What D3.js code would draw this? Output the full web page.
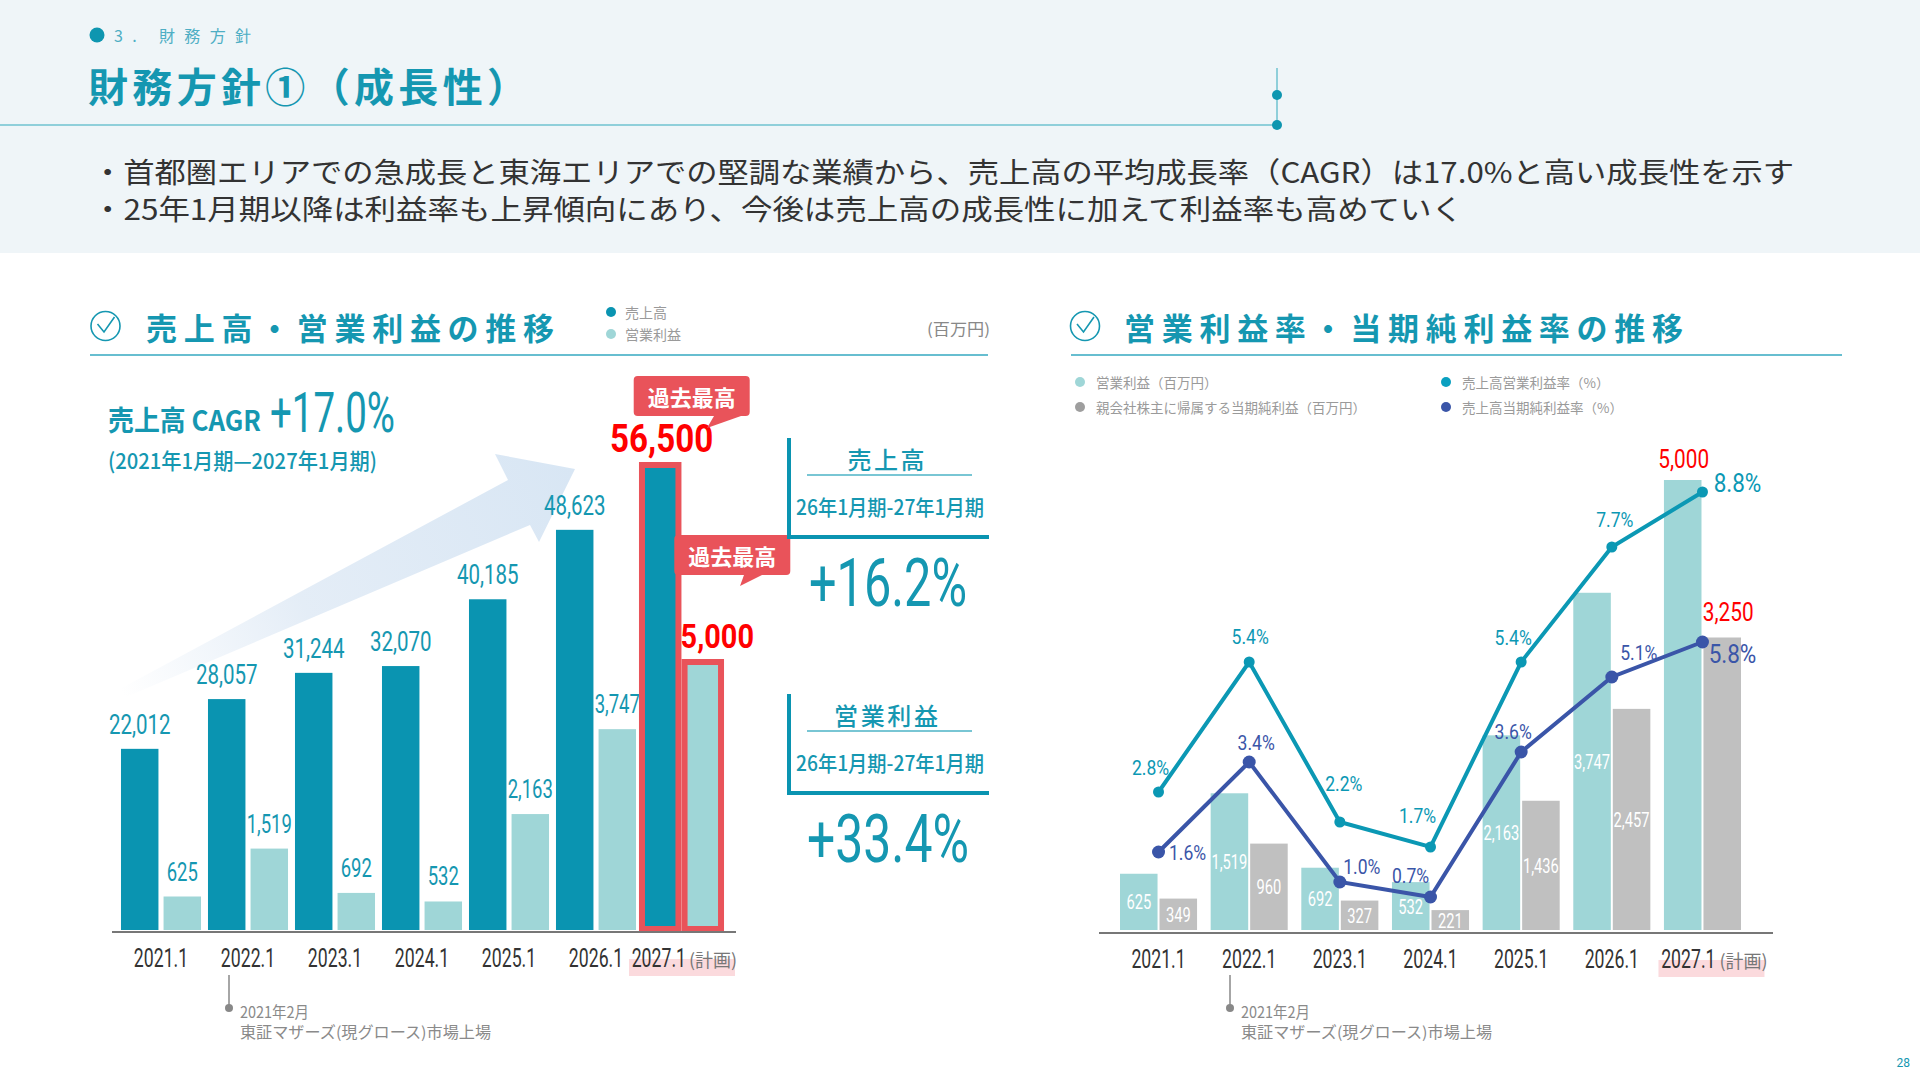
<!DOCTYPE html>
<html><head><meta charset="utf-8">
<script src="https://cdn.jsdelivr.net/npm/d3@7"></script>
<style>body{margin:0;background:#fff}svg{display:block}</style>
</head><body>
<script>
// ---------- data ----------
const years = ['2021.1','2022.1','2023.1','2024.1','2025.1','2026.1','2027.1'];
const sales = [22012, 28057, 31244, 32070, 40185, 48623, 56500];
const opProfit = [625, 1519, 692, 532, 2163, 3747, 5000];
const netProfit = [349, 960, 327, 221, 1436, 2457, 3250];
const opMargin = [2.8, 5.4, 2.2, 1.7, 5.4, 7.7, 8.8];
const netMargin = [1.6, 3.4, 1.0, 0.7, 3.6, 5.1, 5.8];
const planNote = '(計画)';
const salesCAGR = '+17.0%';
const salesGrowth = '+16.2%';
const opGrowth = '+33.4%';
const bullets = [
  '・首都圏エリアでの急成長と東海エリアでの堅調な業績から、売上高の平均成長率（CAGR）は17.0%と高い成長性を示す',
  '・25年1月期以降は利益率も上昇傾向にあり、今後は売上高の成長性に加えて利益率も高めていく'
];
const legendLeft = ['売上高','営業利益'];
const legendRight = ['営業利益（百万円）','親会社株主に帰属する当期純利益（百万円）','売上高営業利益率（%）','売上高当期純利益率（%）'];
// label placement offsets (layout only)
const opLblOff = [[-8,-24],[1,-25],[4,-38],[-13,-31],[-8,-24],[3,-27],[35,-9]];
const netLblOff = [[29,1],[7,-19],[22,-15],[-20,-21],[-8,-20],[27,-24],[30,12]];

// ---------- styles ----------
const TEAL='#0a94b1', TEALT='#1597b1', LIGHT='#9fd6d7', GRAY='#c0c0c0', NAVY='#3a55a8',
      RED='#ff0000', CALL='#e9535a', LINE='#0b98b4', JP="'Noto Sans CJK JP', sans-serif", NUM="Roboto, sans-serif";
const fmt = d3.format(',');
const pct = v => d3.format('.1f')(v) + '%';

const svg = d3.select('body').append('svg').attr('width',1920).attr('height',1080);

function T(g,x,y,s,o={}){
  const t=g.append('text').attr('x',x).attr('y',y).text(s)
    .attr('font-size',o.size||16).attr('fill',o.fill||'#333')
    .attr('text-anchor',o.anchor||'start').attr('font-weight',o.weight||400)
    .attr('font-family',o.family||JP);
  if(o.mid) t.attr('dominant-baseline','central');
  if(o.len) t.attr('textLength',o.len).attr('lengthAdjust',o.adj||'spacingAndGlyphs');
  return t;
}
function N(g,x,y,s,o={}){
  return g.append('text').attr('transform',`translate(${x},${y}) scale(${o.sx||0.78},1)`).text(s)
    .attr('font-family',o.family||NUM).attr('font-size',o.size||20).attr('fill',o.fill||'#333')
    .attr('text-anchor',o.anchor||'middle').attr('font-weight',o.weight||400);
}
function checkIcon(cx,cy){
  svg.append('circle').attr('cx',cx).attr('cy',cy).attr('r',14.5).attr('fill','none').attr('stroke',TEALT).attr('stroke-width',1.6);
  svg.append('path').attr('d',`M${cx-8},${cy-2} L${cx-1.5},${cy+6} L${cx+9},${cy-9}`).attr('fill','none').attr('stroke',TEALT).attr('stroke-width',1.6);
}

// ---------- header ----------
svg.append('rect').attr('x',0).attr('y',0).attr('width',1920).attr('height',253).attr('fill','#eff5f8');
svg.append('circle').attr('cx',97).attr('cy',35).attr('r',7.5).attr('fill','#0e96b0');
T(svg,114,35,'3. 財務方針',{size:16,fill:'#4eaec4',mid:true,len:137,adj:'spacing'});
T(svg,88,85,'財務方針①（成長性）',{size:40,weight:700,fill:TEALT,mid:true,len:439,adj:'spacing'});
svg.append('line').attr('x1',0).attr('x2',1277).attr('y1',125).attr('y2',125).attr('stroke','#6fc2d1').attr('stroke-width',1.5);
svg.append('line').attr('x1',1277).attr('x2',1277).attr('y1',68).attr('y2',125).attr('stroke','#6fc2d1').attr('stroke-width',1.5);
[95,125].forEach(y=>svg.append('circle').attr('cx',1277).attr('cy',y).attr('r',5).attr('fill','#0e96b0'));
T(svg,92,170,bullets[0],{size:28.5,fill:'#333',mid:true,len:1702});
T(svg,92,207.5,bullets[1],{size:28.5,fill:'#333',mid:true,len:1371});

// ---------- left section ----------
checkIcon(105.5,326);
T(svg,146,326,'売上高・営業利益の推移',{size:31,weight:700,fill:TEALT,mid:true,len:408,adj:'spacing'});
[[312,TEAL],[334,LIGHT]].forEach(([y,c],i)=>{
  svg.append('circle').attr('cx',611).attr('cy',y).attr('r',5).attr('fill',c);
  T(svg,625,y,legendLeft[i],{size:14,fill:'#9a9a9a',mid:true});
});
T(svg,990,328,'(百万円)',{size:16,fill:'#888',mid:true,anchor:'end',len:63});
svg.append('line').attr('x1',90).attr('x2',988).attr('y1',355).attr('y2',355).attr('stroke','#35a9c0').attr('stroke-width',1.5);

// arrow
const defs=svg.append('defs');
const gr=defs.append('linearGradient').attr('id','arrowG').attr('gradientUnits','userSpaceOnUse')
  .attr('x1',120).attr('y1',690).attr('x2',575).attr('y2',469);
gr.append('stop').attr('offset',0).attr('stop-color','#dbe7f4').attr('stop-opacity',0);
gr.append('stop').attr('offset',0.4).attr('stop-color','#dbe7f4').attr('stop-opacity',0.75);
gr.append('stop').attr('offset',1).attr('stop-color','#d8e6f4').attr('stop-opacity',1);
svg.append('path').attr('d','M118,690 L508,480 L495,454 L575,469 L539,542 L530,525 L126,697 Z').attr('fill','url(#arrowG)');

T(svg,108,431,'売上高 CAGR',{size:28,weight:700,fill:TEALT,len:153});
T(svg,270,432,salesCAGR,{size:55,family:NUM,fill:TEALT,len:125});
T(svg,108,459,'(2021年1月期—2027年1月期)',{size:22,weight:500,fill:TEALT,mid:true,len:269});

const xL=d3.scaleBand().domain(years).range([117.5,726.5]).paddingInner(0.08).paddingOuter(0.04);
const xLi=d3.scaleBand().domain(['s','o']).range([0,xL.bandwidth()]).paddingInner(0.12);
const yS=d3.scaleLinear().domain([0,56500]).range([930,465]);
const yO=d3.scaleLinear().domain([0,5000]).range([930,662]);
const gL=svg.append('g');
years.forEach((yr,i)=>{
  const xs=xL(yr)+xLi('s'), xo=xL(yr)+xLi('o'), bw=xLi.bandwidth();
  gL.append('rect').attr('x',xs).attr('y',yS(sales[i])).attr('width',bw).attr('height',930-yS(sales[i])).attr('fill',TEAL);
  gL.append('rect').attr('x',xo).attr('y',yO(opProfit[i])).attr('width',bw).attr('height',930-yO(opProfit[i])).attr('fill',LIGHT);
  const last=i===years.length-1;
  if(last){
    gL.append('rect').attr('x',xs-1).attr('y',yS(sales[i])).attr('width',bw-1).attr('height',929-yS(sales[i])).attr('fill','none').attr('stroke',CALL).attr('stroke-width',6);
    gL.append('rect').attr('x',xo-1).attr('y',yO(opProfit[i])).attr('width',bw-1).attr('height',929-yO(opProfit[i])).attr('fill','none').attr('stroke',CALL).attr('stroke-width',6);
    N(gL,xs+bw/2,yS(sales[i])-13,fmt(sales[i]),{size:39,weight:700,fill:RED,sx:0.85});
    N(gL,xo+bw/2+13,yO(opProfit[i])-14,fmt(opProfit[i]),{size:34,weight:700,fill:RED,sx:0.85});
    // callouts
    [[xs+bw/2+30,396,[[714,416],[741,416],[707,428]]],[xo+bw/2+28,555,[[744,575],[762,575],[740,586]]]].forEach(([cx,cy,tri])=>{
      gL.append('rect').attr('x',cx-58).attr('y',cy-20).attr('width',116).attr('height',40).attr('rx',4).attr('fill',CALL);
      gL.append('path').attr('d','M'+tri.map(p=>p.join(',')).join(' L')+' Z').attr('fill',CALL);
      T(gL,cx,cy,'過去最高',{size:22,weight:700,fill:'#fff',mid:true,anchor:'middle'});
    });
  } else {
    N(gL,xs+bw/2,yS(sales[i])-15,fmt(sales[i]),{size:27,fill:TEALT,sx:0.76});
    N(gL,xo+bw/2,yO(opProfit[i])-16,fmt(opProfit[i]),{size:25,fill:TEALT,sx:0.74});
  }
  const cx=xL(yr)+xL.bandwidth()/2;
  if(last){
    N(gL,cx+3,967,yr,{size:26,sx:0.68,anchor:'end',fill:'#333'});
  } else N(gL,cx,967,yr,{size:26,sx:0.68,fill:'#333'});
});
{
  const cx=xL(years[6])+xL.bandwidth()/2;
  gL.insert('rect',':first-child').attr('x',cx-54).attr('y',959).attr('width',106).attr('height',17).attr('fill','#fbdadd');
  T(gL,cx+6,967,planNote,{size:18,fill:'#777'});
}
svg.append('line').attr('x1',112).attr('x2',736).attr('y1',932).attr('y2',932).attr('stroke','#777').attr('stroke-width',2);
function listing(x){
  svg.append('line').attr('x1',x).attr('x2',x).attr('y1',975).attr('y2',1008).attr('stroke','#888').attr('stroke-width',1.5);
  svg.append('circle').attr('cx',x).attr('cy',1008).attr('r',4).attr('fill','#888');
  T(svg,x+11,1010.5,'2021年2月',{size:15.5,fill:'#8a8a8a',mid:true,len:69});
  T(svg,x+11,1030.5,'東証マザーズ(現グロース)市場上場',{size:15.5,fill:'#8a8a8a',mid:true,len:251});
}
listing(229);

// growth boxes
function growthBox(yTop,title,tLen,txt,vLen){
  const g=svg.append('g');
  g.append('line').attr('x1',789).attr('x2',789).attr('y1',yTop).attr('y2',yTop+101).attr('stroke',TEAL).attr('stroke-width',4);
  g.append('line').attr('x1',787).attr('x2',989).attr('y1',yTop+99).attr('y2',yTop+99).attr('stroke',TEAL).attr('stroke-width',4);
  g.append('line').attr('x1',807).attr('x2',972).attr('y1',yTop+37).attr('y2',yTop+37).attr('stroke','#4db3c6').attr('stroke-width',1.5);
  T(g,886,yTop+20,title,{size:24,weight:500,fill:TEALT,mid:true,anchor:'middle',len:tLen,adj:'spacing'});
  T(g,890,yTop+68,'26年1月期-27年1月期',{size:21,weight:500,fill:TEALT,mid:true,anchor:'middle',len:188});
  T(g,888,yTop+168,txt,{size:67,family:NUM,fill:TEALT,anchor:'middle',len:vLen});
}
growthBox(438,'売上高',77,salesGrowth,158);
growthBox(694,'営業利益',104,opGrowth,162);

// ---------- right section ----------
checkIcon(1085,326);
T(svg,1124,326,'営業利益率・当期純利益率の推移',{size:31,weight:700,fill:TEALT,mid:true,len:559,adj:'spacing'});
svg.append('line').attr('x1',1071).attr('x2',1842).attr('y1',355).attr('y2',355).attr('stroke','#35a9c0').attr('stroke-width',1.5);
[[1080,382,LIGHT],[1080,407,'#9e9e9e'],[1446,382,'#0aa0c0'],[1446,407,NAVY]].forEach(([x,y,c],i)=>{
  svg.append('circle').attr('cx',x).attr('cy',y).attr('r',5).attr('fill',c);
  T(svg,x+16,y,legendRight[i],{size:13.5,fill:'#9a9a9a',mid:true});
});

const xR=d3.scaleBand().domain(years).range([1113.2,1747.8]).paddingInner(0.15).paddingOuter(0.075);
const xRi=d3.scaleBand().domain(['o','n']).range([0,xR.bandwidth()]).paddingInner(0.05);
const yR=d3.scaleLinear().domain([0,5000]).range([930,480]);
const yP=d3.scaleLinear().domain([0,10]).range([932,432]);
defs.append('clipPath').attr('id','barClip').append('rect').attr('x',1090).attr('y',400).attr('width',700).attr('height',530);
const gR=svg.append('g');
const gRl=svg.append('g').attr('clip-path','url(#barClip)');
years.forEach((yr,i)=>{
  const xo=xR(yr)+xRi('o'), xn=xR(yr)+xRi('n'), bw=xRi.bandwidth();
  gR.append('rect').attr('x',xo).attr('y',yR(opProfit[i])).attr('width',bw).attr('height',930-yR(opProfit[i])).attr('fill',LIGHT);
  gR.append('rect').attr('x',xn).attr('y',yR(netProfit[i])).attr('width',bw).attr('height',930-yR(netProfit[i])).attr('fill',GRAY);
  const last=i===years.length-1;
  if(last){
    N(gR,xo+bw/2+1,yR(opProfit[i])-12,fmt(opProfit[i]),{size:26,fill:RED,sx:0.8});
    N(gR,xn+bw/2+6,yR(netProfit[i])-17,fmt(netProfit[i]),{size:26,fill:RED,sx:0.8});
  } else {
    N(gRl,xo+bw/2,(yR(opProfit[i])+930)/2+7.5,fmt(opProfit[i]),{size:21,fill:'#fff',sx:0.7});
    N(gRl,xn+bw/2,(yR(netProfit[i])+930)/2+7.5,fmt(netProfit[i]),{size:21,fill:'#fff',sx:0.7});
  }
  const cx=xR(yr)+xR.bandwidth()/2;
  if(last){
    N(gR,cx+13,968,yr,{size:26,sx:0.68,anchor:'end',fill:'#333'});
  } else N(gR,cx,968,yr,{size:26,sx:0.68,fill:'#333'});
});
{
  const cx=xR(years[6])+xR.bandwidth()/2+10;
  gR.insert('rect',':first-child').attr('x',cx-54).attr('y',960).attr('width',106).attr('height',17).attr('fill','#fbdadd');
  T(gR,cx+7,968,planNote,{size:18,fill:'#777'});
}
svg.append('line').attr('x1',1099).attr('x2',1773).attr('y1',933).attr('y2',933).attr('stroke','#777').attr('stroke-width',2);
listing(1230);

const cxR=yr=>xR(yr)+xR.bandwidth()/2;
const lineGen=arr=>d3.line().x((d,i)=>cxR(years[i])).y(d=>yP(d))(arr);
svg.append('path').attr('d',lineGen(opMargin)).attr('fill','none').attr('stroke',LINE).attr('stroke-width',4);
svg.append('path').attr('d',lineGen(netMargin)).attr('fill','none').attr('stroke',NAVY).attr('stroke-width',4);
[[opMargin,LINE,5.5,opLblOff],[netMargin,NAVY,6.5,netLblOff]].forEach(([arr,c,r,off])=>{
  arr.forEach((v,i)=>{
    const x=cxR(years[i]), y=yP(v);
    svg.append('circle').attr('cx',x).attr('cy',y).attr('r',r).attr('fill',c);
    const last=i===arr.length-1, fs=last?25:19.5;
    N(svg,x+off[i][0],y+off[i][1]+fs*0.355,pct(v),{size:fs,fill:c,sx:0.9});
  });
});

// page number
T(svg,1910,1063,'28',{size:12,fill:TEALT,mid:true,anchor:'end',family:NUM});
</script>
</body></html>
